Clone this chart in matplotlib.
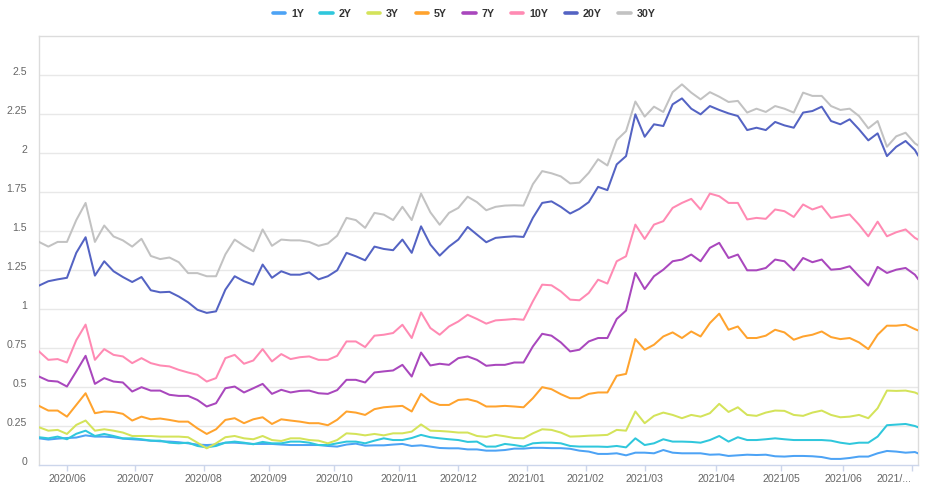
import matplotlib
matplotlib.use('Agg')
import matplotlib.pyplot as plt
import matplotlib.transforms as mtransforms
from matplotlib.lines import Line2D
import numpy as np
import pandas as pd

plt.rcParams['font.family'] = ['Liberation Sans', 'DejaVu Sans']

# ---- categories: US trading days shown on the chart ----
holidays = ['2020-05-25', '2020-07-03', '2020-09-07', '2020-10-12', '2020-11-11',
            '2020-11-26', '2020-12-25', '2021-01-01', '2021-01-18', '2021-02-15',
            '2021-04-02', '2021-05-31', '2021-07-05']
trading_days = pd.bdate_range('2020-05-18', '2021-07-06', freq='C', holidays=holidays)
# values read every third trading day plus the last day
sample_days = list(trading_days[::3]) + [trading_days[-1]]

series_names = ['1Y', '2Y', '3Y', '5Y', '7Y', '10Y', '20Y', '30Y']

y1 = [0.171, 0.163, 0.169, 0.173, 0.176, 0.19, 0.182, 0.182, 0.178, 0.169,
      0.165, 0.161, 0.156, 0.152, 0.15, 0.146, 0.139, 0.131, 0.128, 0.131,
      0.143, 0.143, 0.139, 0.135, 0.135, 0.135, 0.131, 0.128, 0.128, 0.128,
      0.128, 0.122, 0.118, 0.131, 0.137, 0.124, 0.126, 0.126, 0.131, 0.135,
      0.122, 0.126, 0.118, 0.109, 0.107, 0.107, 0.10, 0.10, 0.092, 0.092,
      0.096, 0.105, 0.105, 0.11, 0.11, 0.108, 0.108, 0.104, 0.092, 0.086,
      0.071, 0.071, 0.075, 0.062, 0.079, 0.079, 0.075, 0.096, 0.079, 0.075,
      0.075, 0.075, 0.066, 0.068, 0.058, 0.062, 0.066, 0.064, 0.066, 0.056,
      0.054, 0.058, 0.058, 0.056, 0.051, 0.039, 0.039, 0.045, 0.054, 0.054,
      0.075, 0.09, 0.086, 0.079, 0.083, 0.075]

y2 = [0.178, 0.171, 0.182, 0.165, 0.20, 0.22, 0.186, 0.199, 0.186, 0.171,
      0.171, 0.165, 0.156, 0.156, 0.143, 0.139, 0.143, 0.122, 0.113, 0.122,
      0.143, 0.15, 0.143, 0.133, 0.148, 0.139, 0.139, 0.15, 0.15, 0.143,
      0.128, 0.128, 0.139, 0.15, 0.15, 0.139, 0.156, 0.171, 0.16, 0.16,
      0.173, 0.193, 0.178, 0.171, 0.165, 0.16, 0.148, 0.15, 0.118, 0.118,
      0.135, 0.128, 0.118, 0.139, 0.143, 0.143, 0.139, 0.122, 0.118, 0.118,
      0.118, 0.116, 0.122, 0.113, 0.171, 0.128, 0.139, 0.165, 0.15, 0.15,
      0.148, 0.143, 0.16, 0.186, 0.15, 0.178, 0.16, 0.16, 0.165, 0.171,
      0.165, 0.16, 0.16, 0.16, 0.16, 0.156, 0.143, 0.135, 0.143, 0.143,
      0.182, 0.255, 0.259, 0.263, 0.25, 0.242]

y3 = [0.242, 0.22, 0.225, 0.199, 0.257, 0.285, 0.22, 0.229, 0.22, 0.208,
      0.186, 0.186, 0.186, 0.182, 0.182, 0.182, 0.178, 0.143, 0.107, 0.139,
      0.178, 0.186, 0.171, 0.165, 0.186, 0.16, 0.154, 0.171, 0.171, 0.16,
      0.156, 0.139, 0.16, 0.203, 0.199, 0.19, 0.199, 0.19, 0.203, 0.203,
      0.214, 0.26, 0.22, 0.218, 0.214, 0.208, 0.208, 0.186, 0.18, 0.193,
      0.184, 0.173, 0.171, 0.203, 0.229, 0.225, 0.208, 0.182, 0.184, 0.188,
      0.19, 0.193, 0.225, 0.22, 0.343, 0.268, 0.315, 0.336, 0.321, 0.30,
      0.321, 0.31, 0.332, 0.392, 0.34, 0.37, 0.321, 0.315, 0.336, 0.349,
      0.347, 0.321, 0.315, 0.336, 0.349, 0.321, 0.306, 0.31, 0.321, 0.30,
      0.364, 0.477, 0.475, 0.477, 0.465, 0.456]

y5 = [0.379, 0.349, 0.349, 0.31, 0.385, 0.46, 0.332, 0.343, 0.34, 0.328,
      0.285, 0.31, 0.293, 0.298, 0.289, 0.278, 0.278, 0.235, 0.199, 0.229,
      0.289, 0.30, 0.268, 0.293, 0.306, 0.263, 0.293, 0.285, 0.278, 0.268,
      0.268, 0.255, 0.29, 0.343, 0.336, 0.321, 0.358, 0.37, 0.375, 0.379,
      0.343, 0.456, 0.407, 0.385, 0.385, 0.417, 0.422, 0.407, 0.375, 0.375,
      0.379, 0.375, 0.37, 0.428, 0.499, 0.486, 0.454, 0.428, 0.428, 0.456,
      0.465, 0.465, 0.572, 0.584, 0.807, 0.739, 0.771, 0.824, 0.85, 0.814,
      0.856, 0.824, 0.91, 0.97, 0.867, 0.888, 0.814, 0.814, 0.829, 0.867,
      0.85, 0.803, 0.824, 0.835, 0.856, 0.82, 0.807, 0.814, 0.786, 0.743,
      0.835, 0.893, 0.893, 0.899, 0.871, 0.863]

y7 = [0.567, 0.54, 0.535, 0.503, 0.60, 0.70, 0.52, 0.557, 0.535, 0.529,
      0.471, 0.499, 0.477, 0.477, 0.45, 0.443, 0.443, 0.417, 0.375, 0.396,
      0.492, 0.503, 0.465, 0.492, 0.52, 0.456, 0.482, 0.465, 0.475, 0.477,
      0.46, 0.456, 0.48, 0.546, 0.546, 0.529, 0.593, 0.60, 0.606, 0.642,
      0.567, 0.721, 0.638, 0.649, 0.642, 0.685, 0.696, 0.674, 0.636, 0.642,
      0.642, 0.657, 0.657, 0.76, 0.841, 0.829, 0.786, 0.728, 0.739, 0.792,
      0.814, 0.814, 0.936, 0.99, 1.231, 1.128, 1.21, 1.252, 1.306, 1.317,
      1.349, 1.306, 1.392, 1.424, 1.327, 1.349, 1.248, 1.248, 1.263, 1.317,
      1.306, 1.248, 1.327, 1.30, 1.317, 1.252, 1.257, 1.274, 1.21, 1.15,
      1.27, 1.231, 1.252, 1.263, 1.22, 1.193]

y10 = [0.728, 0.674, 0.679, 0.657, 0.80, 0.90, 0.674, 0.743, 0.706, 0.696,
       0.653, 0.685, 0.653, 0.638, 0.632, 0.61, 0.593, 0.578, 0.535, 0.557,
       0.685, 0.706, 0.649, 0.67, 0.743, 0.664, 0.711, 0.679, 0.691, 0.696,
       0.674, 0.674, 0.70, 0.792, 0.792, 0.756, 0.829, 0.835, 0.846, 0.899,
       0.814, 0.978, 0.878, 0.835, 0.888, 0.92, 0.963, 0.936, 0.906, 0.927,
       0.931, 0.936, 0.931, 1.049, 1.156, 1.152, 1.113, 1.06, 1.056, 1.103,
       1.188, 1.163, 1.306, 1.338, 1.541, 1.449, 1.541, 1.563, 1.648, 1.68,
       1.706, 1.638, 1.74, 1.723, 1.68, 1.68, 1.574, 1.584, 1.578, 1.638,
       1.627, 1.59, 1.67, 1.638, 1.659, 1.584, 1.595, 1.606, 1.541, 1.466,
       1.56, 1.466, 1.492, 1.51, 1.456, 1.445]

y20 = [1.15, 1.178, 1.19, 1.20, 1.36, 1.46, 1.214, 1.306, 1.242, 1.205,
       1.173, 1.205, 1.12, 1.107, 1.11, 1.08, 1.043, 0.995, 0.975, 0.985,
       1.124, 1.21, 1.178, 1.156, 1.285, 1.20, 1.242, 1.22, 1.22, 1.235,
       1.19, 1.21, 1.248, 1.36, 1.338, 1.312, 1.40, 1.385, 1.377, 1.445,
       1.36, 1.53, 1.413, 1.342, 1.40, 1.445, 1.526, 1.477, 1.428, 1.456,
       1.462, 1.466, 1.462, 1.584, 1.68, 1.69, 1.655, 1.612, 1.642, 1.685,
       1.783, 1.762, 1.927, 1.98, 2.248, 2.104, 2.184, 2.173, 2.312, 2.35,
       2.284, 2.248, 2.301, 2.276, 2.254, 2.237, 2.147, 2.162, 2.147, 2.199,
       2.177, 2.162, 2.259, 2.269, 2.297, 2.205, 2.184, 2.216, 2.152, 2.081,
       2.126, 1.98, 2.04, 2.077, 2.019, 1.985]

y30 = [1.43, 1.40, 1.43, 1.43, 1.57, 1.68, 1.43, 1.535, 1.465, 1.44,
       1.40, 1.45, 1.34, 1.32, 1.33, 1.30, 1.23, 1.23, 1.21, 1.21,
       1.35, 1.445, 1.405, 1.37, 1.51, 1.405, 1.445, 1.44, 1.44, 1.43,
       1.405, 1.42, 1.47, 1.584, 1.57, 1.52, 1.616, 1.605, 1.57, 1.655,
       1.57, 1.74, 1.62, 1.54, 1.616, 1.648, 1.72, 1.685, 1.633, 1.655,
       1.663, 1.665, 1.663, 1.80, 1.884, 1.87, 1.85, 1.805, 1.81, 1.873,
       1.96, 1.92, 2.083, 2.14, 2.33, 2.233, 2.297, 2.263, 2.39, 2.44,
       2.387, 2.344, 2.39, 2.361, 2.327, 2.334, 2.259, 2.284, 2.263, 2.301,
       2.284, 2.259, 2.387, 2.366, 2.366, 2.301, 2.276, 2.284, 2.237, 2.158,
       2.205, 2.04, 2.107, 2.13, 2.062, 2.049]

colors = ['#4da3f5', '#2fc7dc', '#d4e35a', '#ffa32e', '#a947bd', '#ff8ab3', '#5463c3', '#c2c2c2']
y_ticks = [0, 0.25, 0.5, 0.75, 1, 1.25, 1.5, 1.75, 2, 2.25, 2.5]

# ---- figure ----
W, H = 928, 493
fig = plt.figure(figsize=(W / 100, H / 100), dpi=100)
ax = fig.add_axes([39 / W, 1 - 465 / H, (918 - 39) / W, (465 - 36) / H])

pos_of = {d: i for i, d in enumerate(trading_days)}
xs = [pos_of[d] for d in sample_days]

all_series = [y1, y2, y3, y5, y7, y10, y20, y30]
for name, vals, c in zip(series_names, all_series, colors):
    ax.plot(xs, vals, color=c, lw=1.45, solid_joinstyle='round', label=name, zorder=3)

ax.set_xlim(0, len(trading_days) - 1)
ax.set_ylim(0, 2.75)

# y axis
ax.set_yticks(y_ticks)
ax.set_yticklabels(['{:g}'.format(v) for v in y_ticks])
ax.tick_params(axis='y', length=0, pad=8.5, labelsize=7.6, labelcolor='#666666')
shift_up = mtransforms.ScaledTranslation(0, 4 / 100, fig.dpi_scale_trans)
for lab in ax.get_yticklabels():
    lab.set_transform(lab.get_transform() + shift_up)
for v in y_ticks[1:]:
    ax.axhline(v, color='#e8e8e8', lw=1.0, zorder=1)

# x axis: first trading day of each month
month_pos, month_lab = [], []
prev = None
for i, d in enumerate(trading_days):
    key = (d.year, d.month)
    if key != prev and i > 0:
        month_pos.append(i)
        month_lab.append(d.strftime('%Y/%m'))
    prev = key
month_lab[-1] = month_lab[-1][:5] + '...'
ax.set_xticks(month_pos)
ax.set_xticklabels(month_lab)
ax.tick_params(axis='x', length=4, width=1, color='#ccd6eb', pad=2.5,
               labelsize=7.6, labelcolor='#666666')
ax.get_xticklabels()[-1].set_horizontalalignment('right')

for s in ['left', 'top', 'right']:
    ax.spines[s].set_color('#dcdcdc')
    ax.spines[s].set_linewidth(1.0)
ax.spines['bottom'].set_color('#ccd6eb')
ax.spines['bottom'].set_linewidth(1.0)

# legend
handles = [Line2D([0], [0], color=c, lw=2.6, solid_capstyle='round') for c in colors]
fig.legend(handles, series_names, loc='center', bbox_to_anchor=(464 / W, 1 - 14 / H),
           ncol=8, frameon=False, handlelength=1.15, handletextpad=0.55,
           columnspacing=1.55, prop={'weight': 'bold', 'size': 7.7},
           labelcolor='#333333')

fig.savefig('out.png', dpi=100)
